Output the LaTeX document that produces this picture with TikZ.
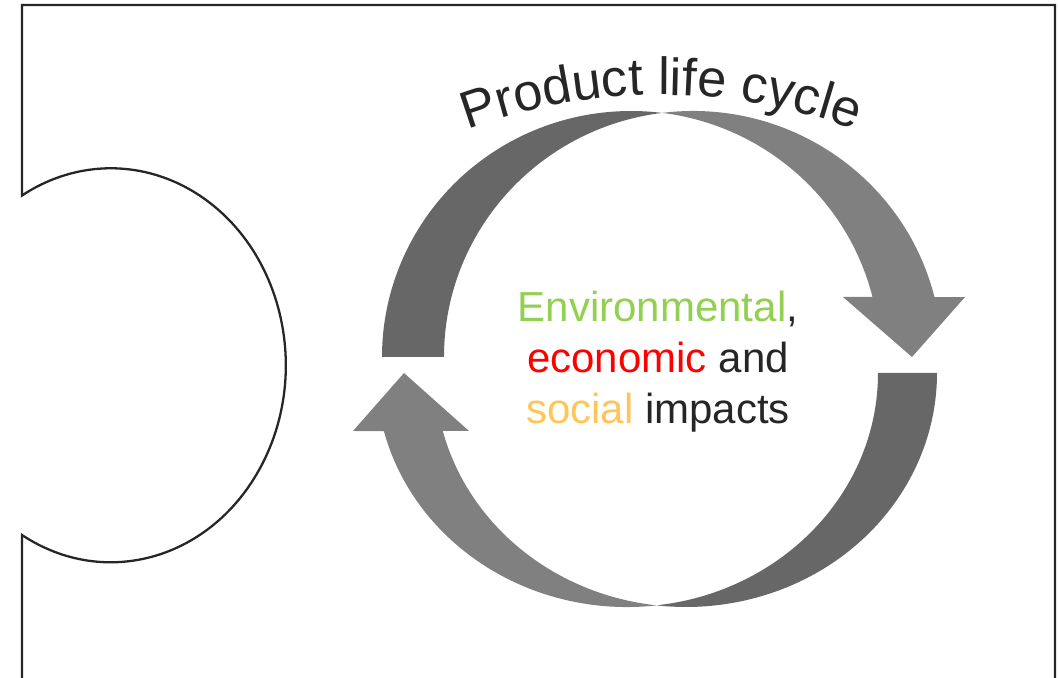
\documentclass[tikz,border=0pt]{standalone}
\usepackage{fontspec}
\setmainfont{Liberation Sans}
\usepackage{xcolor}
\usetikzlibrary{decorations.text}

\definecolor{darkband}{HTML}{676767}
\definecolor{lightband}{HTML}{808080}
\definecolor{inkgray}{HTML}{262626}
\definecolor{envgreen}{HTML}{92D050}
\definecolor{ecored}{HTML}{FF0000}
\definecolor{socorange}{HTML}{FFC55A}

\begin{document}
\begin{tikzpicture}[x=0.02cm,y=-0.02cm,
  impact/.style={anchor=base, inner sep=0pt, text=inkgray,
    font=\fontsize{23.9}{28}\selectfont}]

\useasboundingbox (0,0) rectangle (1058,678);

% Draw frame with the notch on its left side
\draw[line width=1.3pt, inkgray] (22,700) -- (22,535)
  arc[start angle=120.5, end angle=-120.5, x radius=175, y radius=197]
  -- (22,5) -- (1055,5) -- (1055,700);

% Draw upper arrow (dark back, light front with head)
\fill[darkband] (382,357)
  arc[start angle=180, end angle=277.15, x radius=249, y radius=246]
  arc[start angle=262.85, end angle=180, x radius=249, y radius=246] -- cycle;
\fill[lightband] (662,112.9)
  arc[start angle=262.85, end angle=345.9, x radius=249, y radius=246]
  -- (965,297) -- (912,357) -- (843,297) -- (872.5,297)
  arc[start angle=345.9, end angle=277.15, x radius=249, y radius=246] -- cycle;

% Draw lower arrow
\fill[darkband] (937,373)
  arc[start angle=0, end angle=96.75, x radius=251, y radius=234]
  arc[start angle=83.25, end angle=0, x radius=251, y radius=234] -- cycle;
\fill[lightband] (656.5,605.4)
  arc[start angle=83.25, end angle=165.65, x radius=251, y radius=234]
  -- (353,431) -- (404,373) -- (469,431) -- (442.8,431)
  arc[start angle=165.65, end angle=96.75, x radius=251, y radius=234] -- cycle;

% Curved title over the cycle
\path[decorate, decoration={text along path, text align=center, text color=inkgray,
    text={|\fontsize{29.8}{35}\selectfont|Product life cycle}}]
  (661,655) ++(238:560) arc[start angle=238, end angle=302, radius=560];

% Impacts in the middle
\node[impact] (env) at (658,322) {\textcolor{envgreen}{Environmental},};
\node[impact] (eco) at (658,373) {\textcolor{ecored}{economic} and};
\node[impact] (soc) at (658,424) {\textcolor{socorange}{social} impacts};

\end{tikzpicture}
\end{document}
